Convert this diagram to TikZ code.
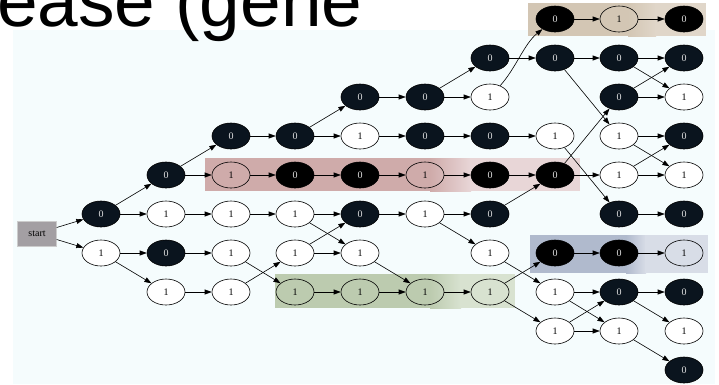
\documentclass[tikz,border=0pt]{standalone}
\usepackage{fontspec}
\newfontfamily\titlefont{Liberation Sans}
\newfontfamily\lblfont{Liberation Serif}
\usetikzlibrary{shapes.geometric,arrows.meta}
\definecolor{bgc}{RGB}{245,252,253}
\definecolor{dk}{RGB}{10,20,30}
\definecolor{pinkA}{RGB}{207,171,170}
\definecolor{pinkB}{RGB}{232,214,215}
\definecolor{greenA}{RGB}{188,203,175}
\definecolor{greenB}{RGB}{216,226,208}
\definecolor{blueA}{RGB}{176,186,205}
\definecolor{blueB}{RGB}{216,221,231}
\definecolor{beigeA}{RGB}{211,198,180}
\definecolor{beigeB}{RGB}{224,214,201}
\definecolor{startgray}{RGB}{163,159,163}
\begin{document}
\begin{tikzpicture}[x=1pt,y=-1pt,
  base/.style={ellipse, draw=black, line width=0.6pt, minimum width=38pt, minimum height=26pt, inner sep=0pt, font=\lblfont\fontsize{10}{10}\selectfont},
  zero/.style={base, fill=dk, text=white!88!black},
  zeroin/.style={base, fill=black, text=white!88!black},
  one/.style={base, fill=white, text=black},
  onein/.style={base, text=black},
  startbox/.style={rectangle, draw=black!20, fill=startgray, minimum width=39pt, minimum height=25pt, inner sep=0pt, font=\lblfont\fontsize{10}{10}\selectfont},
  edge/.style={draw=black, line width=0.6pt, -{Triangle[length=7pt,width=5pt]}},
  title/.style={anchor=base west, inner sep=0pt, font=\titlefont\fontsize{73}{73}\selectfont}
]
\useasboundingbox (0,0) rectangle (719,384);
\clip (0,0) rectangle (719,384);
\fill[bgc] (13,30) rectangle (715,384);
\node[title] (title) at (-3,26) {ease (gene};

% highlight boxes
\fill[beigeA] (528,3) rectangle (629,36);
\shade[left color=beigeA, right color=beigeB] (628,3) rectangle (656,36);
\fill[beigeB] (655,3) rectangle (706,36);
\fill[pinkA] (205,158) rectangle (431,191);
\shade[left color=pinkA, right color=pinkB] (430,158) rectangle (471,191);
\fill[pinkB] (470,158) rectangle (580,191);
\fill[greenA] (275,274) rectangle (431,308);
\shade[left color=greenA, right color=greenB] (430,274) rectangle (461,308);
\fill[greenB] (460,274) rectangle (515,308);
\fill[blueA] (530,235) rectangle (627,273);
\shade[left color=blueA, right color=blueB] (626,235) rectangle (646,273);
\fill[blueB] (645,235) rectangle (708,273);

% nodes
\node[startbox] (start) at (37,233.5) {start};

\node[zeroin] (A8) at (555,19) {0};
\node[onein] (A9) at (619,19) {1};
\node[zeroin] (A10) at (684,19) {0};

\node[zero] (B7) at (490,58) {0};
\node[zero] (B8) at (555,58) {0};
\node[zero] (B9) at (619,58) {0};
\node[zero] (B10) at (684,58) {0};

\node[zero] (C5) at (360,97) {0};
\node[zero] (C6) at (425,97) {0};
\node[one] (C7) at (490,97) {1};
\node[zero] (C9) at (619,97) {0};
\node[one] (C10) at (684,97) {1};

\node[zero] (D3) at (231,136) {0};
\node[zero] (D4) at (295,136) {0};
\node[one] (D5) at (360,136) {1};
\node[zero] (D6) at (425,136) {0};
\node[zero] (D7) at (490,136) {0};
\node[one] (D8) at (555,136) {1};
\node[one] (D9) at (619,136) {1};
\node[zero] (D10) at (684,136) {0};

\node[zero] (E2) at (166,175) {0};
\node[onein] (E3) at (231,175) {1};
\node[zeroin] (E4) at (295,175) {0};
\node[zeroin] (E5) at (360,175) {0};
\node[onein] (E6) at (425,175) {1};
\node[zeroin] (E7) at (490,175) {0};
\node[zeroin] (E8) at (555,175) {0};
\node[one] (E9) at (619,175) {1};
\node[one] (E10) at (684,175) {1};

\node[zero] (F1) at (101,214) {0};
\node[one] (F2) at (166,214) {1};
\node[one] (F3) at (231,214) {1};
\node[one] (F4) at (295,214) {1};
\node[zero] (F5) at (360,214) {0};
\node[one] (F6) at (425,214) {1};
\node[zero] (F7) at (490,214) {0};
\node[zero] (F9) at (619,214) {0};
\node[zero] (F10) at (684,214) {0};

\node[one] (G1) at (101,253) {1};
\node[zero] (G2) at (166,253) {0};
\node[one] (G3) at (231,253) {1};
\node[one] (G4) at (295,253) {1};
\node[one] (G5) at (360,253) {1};
\node[one] (G7) at (490,253) {1};
\node[zeroin] (G8) at (555,253) {0};
\node[zeroin] (G9) at (619,253) {0};
\node[onein] (G10) at (684,253) {1};

\node[one] (H2) at (166,292) {1};
\node[one] (H3) at (231,292) {1};
\node[onein] (H4) at (295,292) {1};
\node[onein] (H5) at (360,292) {1};
\node[onein] (H6) at (425,292) {1};
\node[onein] (H7) at (490,292) {1};
\node[one] (H8) at (555,292) {1};
\node[zero] (H9) at (619,292) {0};
\node[zero] (H10) at (684,292) {0};

\node[one] (I8) at (555,331) {1};
\node[one] (I9) at (619,331) {1};
\node[one] (I10) at (684,331) {1};

\node[zero] (J10) at (684,370) {0};

% edges
\foreach \a/\b in {start/F1, start/G1, F1/E2, F1/F2, G1/G2, G1/H2,
  E2/D3, E2/E3, D3/D4, D4/C5, D4/D5, C5/C6, C6/B7, C6/C7, B7/B8,
  A8/A9, A9/A10, B8/B9, B8/D9, B9/B10, B9/C10, C9/B10, C9/C10,
  D5/D6, D6/D7, D7/D8, D8/F9,
  E3/E4, E4/E5, E5/E6, E6/E7, E7/E8, E8/C9, E8/E9,
  D9/D10, D9/E10, E9/D10, E9/E10,
  F2/F3, F3/F4, F4/F5, F4/G5, G4/F5, G4/G5, F5/F6, F6/F7, F6/G7, F7/E8,
  F9/F10, G2/G3, G3/H4, H2/H3, H3/G4, G5/H6,
  H4/H5, H5/H6, H6/H7, G7/H8, H7/G8, H7/I8, G8/G9, G9/G10,
  H8/H9, H8/I9, I8/H9, I8/I9, H9/H10, H9/I10, I9/J10}
  \draw[edge] (\a) -- (\b);
\draw[edge] (C7) .. controls (516,68) and (524,44) .. (A8);
\end{tikzpicture}
\end{document}
